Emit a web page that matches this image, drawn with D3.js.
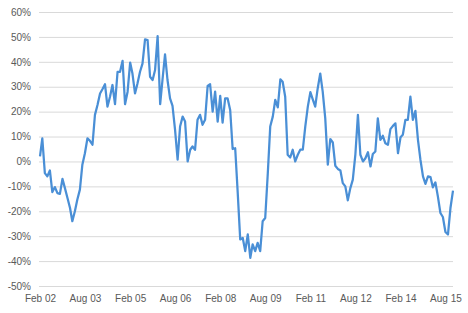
<!DOCTYPE html>
<html lang="en">
<head>
    <meta charset="utf-8" />
    <title>Monthly change</title>
    <script src="https://cdnjs.cloudflare.com/ajax/libs/d3/7.8.5/d3.min.js"></script>
    <style>
        body { margin: 0; background: #fff; }
        .axis text {
            font-family: "Liberation Sans", Arial, sans-serif;
            font-size: 10px;
            fill: #595959;
        }
        .grid line { stroke: #d9d9d9; stroke-width: 1; }
    </style>
</head>
<body>
<script>
    // first month of the series
    const startMonth = "2002-02";

    // values in percent, one per month (Feb 2002 .. Nov 2015)
    const values = [
        2, 9.3, -4.7, -6, -3.6, -12.3, -10.3, -12.7, -13, -7,
        -10.7, -14.7, -18.7, -24, -20, -15.3, -11.3, -1.3, 3.3, 9.3,
        8.3, 6.7, 18.7, 22.7, 27.3, 29, 31, 22, 26, 30.7,
        23, 36, 36, 40.4, 23, 28, 39.7, 35.3, 27.3, 31.3,
        36, 39.3, 49, 48.7, 34, 32.7, 36.7, 50.3, 23, 32.7,
        43, 32.7, 25.3, 22.3, 12.7, 0.7, 14, 18, 16, 0,
        4.7, 6, 4.7, 16.7, 18.7, 14.7, 16.7, 30.3, 31, 20,
        28, 16, 26.3, 15.6, 25.3, 25.3, 20.7, 5, 5.3, -12.7,
        -31.3, -30.7, -36, -29.3, -38.7, -33.3, -36, -32.7, -36, -24,
        -22.7, -5, 14, 18, 24.7, 21.7, 33, 32, 26, 2.7,
        1.6, 4.7, 0, 2.7, 4.7, 4.7, 14, 22, 27.8, 25,
        22, 29.3, 35.3, 28, 17.3, -1.3, 9, 7.6, -1.7, -3,
        -3.6, -8.7, -10, -15.6, -10.7, -7.3, 2.7, 18.7, 2.7, 0,
        1.3, 3.7, -2, 3, 4, 17.3, 8.7, 10.3, 7.3, 6.7,
        13, 14.3, 15.3, 3.3, 9.7, 10.7, 16.7, 16.7, 26, 16.7,
        20.3, 8.7, 0.7, -6, -9, -6, -6.3, -10.4, -8.4, -14,
        -20.7, -22.3, -28.3, -29.3, -18.7, -11.7
    ];

    // axis ticks
    const xTickMonths = ["2002-02", "2003-08", "2005-02", "2006-08", "2008-02",
                         "2009-08", "2011-02", "2012-08", "2014-02", "2015-08"];
    const yTicks = [-50, -40, -30, -20, -10, 0, 10, 20, 30, 40, 50, 60];

    const W = 468, H = 313;
    const margin = { top: 12, right: 15, bottom: 27, left: 40 };

    const parseMonth = d3.timeParse("%Y-%m");
    const start = parseMonth(startMonth);
    const data = values.map((v, i) => ({ date: d3.timeMonth.offset(start, i), value: v }));

    const svg = d3.select("body").append("svg")
        .attr("width", W)
        .attr("height", H);

    const x = d3.scaleTime()
        .domain(d3.extent(data, d => d.date))
        .range([margin.left, W - margin.right]);

    const y = d3.scaleLinear()
        .domain([-50, 60])
        .range([H - margin.bottom, margin.top]);

    // horizontal gridlines
    svg.append("g")
        .attr("class", "grid")
        .selectAll("line")
        .data(yTicks)
        .join("line")
        .attr("x1", margin.left - 1)
        .attr("x2", W - margin.right)
        .attr("y1", d => y(d) + 0.5)
        .attr("y2", d => y(d) + 0.5);

    // y axis labels
    const yAxis = d3.axisLeft(y)
        .tickValues(yTicks)
        .tickSize(0)
        .tickPadding(9)
        .tickFormat(d => d + "%");
    svg.append("g")
        .attr("class", "axis")
        .attr("transform", `translate(${margin.left},0)`)
        .call(yAxis)
        .call(g => g.select(".domain").remove());

    // x axis labels
    const xAxis = d3.axisBottom(x)
        .tickValues(xTickMonths.map(parseMonth))
        .tickSize(0)
        .tickPadding(9)
        .tickFormat(d3.timeFormat("%b %y"));
    svg.append("g")
        .attr("class", "axis")
        .attr("transform", `translate(0,${H - margin.bottom})`)
        .call(xAxis)
        .call(g => g.select(".domain").remove());

    // the line
    const line = d3.line()
        .x(d => x(d.date))
        .y(d => y(d.value));

    svg.append("path")
        .datum(data)
        .attr("fill", "none")
        .attr("stroke", "#4a8fd6")
        .attr("stroke-width", 2.25)
        .attr("stroke-linejoin", "round")
        .attr("d", line);
</script>
</body>
</html>
